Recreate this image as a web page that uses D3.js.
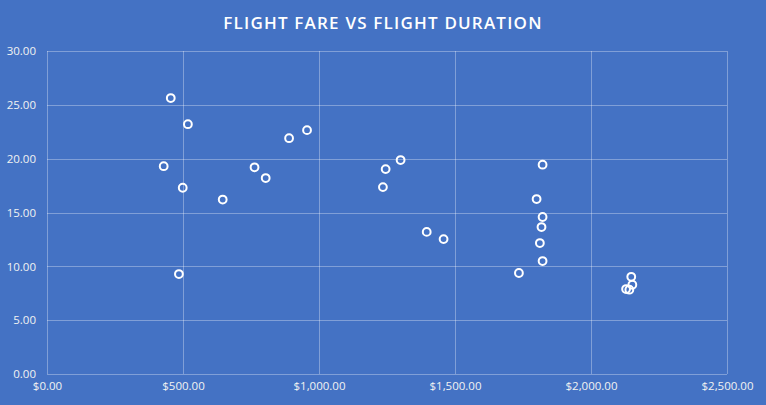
<!DOCTYPE html>
<html>
<head>
<meta charset="utf-8">
<script src="https://cdn.jsdelivr.net/npm/d3@7/dist/d3.min.js"></script>
<style>
  html, body { margin: 0; padding: 0; background: #4472C4; }
  svg { display: block; }
</style>
</head>
<body>
<svg id="chart" width="766" height="405"></svg>
<script>
const title = "FLIGHT FARE VS FLIGHT DURATION";
const fares = [455, 518, 429, 499, 485, 890, 956, 763, 804, 646, 1300, 1245, 1235, 1822, 1800, 1822, 1818, 1396, 1458, 1812, 1822, 1735, 2148, 2152, 2129, 2141];
const durations = [25.63, 23.2, 19.3, 17.3, 9.28, 21.9, 22.65, 19.2, 18.2, 16.2, 19.87, 19.03, 17.36, 19.44, 16.25, 14.58, 13.65, 13.2, 12.53, 12.16, 10.49, 9.38, 9.03, 8.29, 7.89, 7.83];
const xTicks = [0, 500, 1000, 1500, 2000, 2500];
const yTicks = [0, 5, 10, 15, 20, 25, 30];

const W = 766, H = 405;
const m = { left: 47, right: 766 - 727, top: 51, bottom: 405 - 374 };
const svg = d3.select("#chart");
svg.append("rect").attr("width", W).attr("height", H).attr("fill", "#4472C4");

const x = d3.scaleLinear().domain([0, 2500]).range([m.left, W - m.right]);
const y = d3.scaleLinear().domain([0, 30]).range([H - m.bottom, m.top]);

const gridColor = "rgba(255,255,255,0.32)";
const font = "'Open Sans', sans-serif";
const textColor = "#F2F2F2";

// grid + y axis
const yAxis = d3.axisLeft(y).tickValues(yTicks).tickSize(-(W - m.left - m.right)).tickPadding(11)
  .tickFormat(d3.format(".2f"));
const gy = svg.append("g").attr("transform", `translate(${m.left},0)`).call(yAxis);
gy.select(".domain").remove();
gy.selectAll("line").attr("stroke", gridColor).attr("stroke-width", 1).attr("shape-rendering", "crispEdges");
gy.selectAll("text").attr("fill", textColor).style("font-family", font).style("font-size", "11.5px");

// grid + x axis
const fmtX = v => "$" + d3.format(",.2f")(v);
const xAxis = d3.axisBottom(x).tickValues(xTicks).tickSize(-(H - m.top - m.bottom)).tickPadding(8)
  .tickFormat(fmtX);
const gx = svg.append("g").attr("transform", `translate(0,${H - m.bottom})`).call(xAxis);
gx.select(".domain").remove();
gx.selectAll("line").attr("stroke", gridColor).attr("stroke-width", 1).attr("shape-rendering", "crispEdges");
gx.selectAll("text").attr("fill", textColor).style("font-family", font).style("font-size", "11.5px");

// points
const data = fares.map((f, i) => ({ f, d: durations[i] }));
svg.append("g").selectAll("circle").data(data).join("circle")
  .attr("cx", p => x(p.f)).attr("cy", p => y(p.d)).attr("r", 3.9)
  .attr("fill", "none").attr("stroke", "#FFFFFF").attr("stroke-width", 2);

// title
svg.append("text").attr("x", 383).attr("y", 29).attr("text-anchor", "middle")
  .attr("fill", "#FFFFFF").style("font-family", font).style("font-weight", "600")
  .style("font-size", "17px").style("letter-spacing", "1.2px").text(title);
</script>
</body>
</html>
